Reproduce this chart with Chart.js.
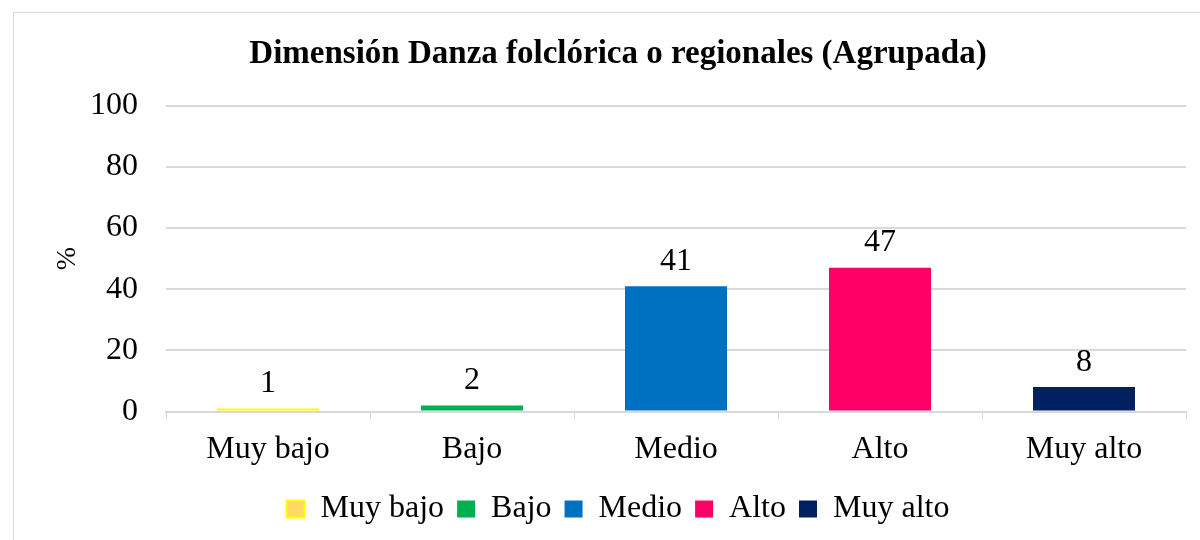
<!DOCTYPE html>
<html>
<head>
<meta charset="utf-8">
<script src="https://cdn.jsdelivr.net/npm/chart.js@4"></script>
<style>
  html, body { margin: 0; padding: 0; background: #fff; }
  #frame { position: absolute; left: 13px; top: 12px; width: 1200px; height: 540px; border: 1px solid #d9d9d9; }
  #wrap { position: absolute; left: 0; top: 0; width: 1200px; height: 540px; }
</style>
</head>
<body>
<div id="frame"></div>
<div id="wrap"><canvas id="c"></canvas></div>
<script>
const categories = ['Muy bajo', 'Bajo', 'Medio', 'Alto', 'Muy alto'];
const values = [1, 2, 41, 47, 8];
const barColors = ['#FFFF00', '#00B050', '#0070C0', '#FF0066', '#002060'];
const legendFill = ['#FFD966', '#00B050', '#0070C0', '#FF0066', '#002060'];
const yTicks = [0, 20, 40, 60, 80, 100];

const serif = '"Liberation Serif", "Times New Roman", serif';

const valueLabels = {
  id: 'valueLabels',
  afterDatasetsDraw(chart) {
    const ctx = chart.ctx;
    const meta = chart.getDatasetMeta(0);
    ctx.save();
    ctx.font = '32px ' + serif;
    ctx.fillStyle = '#000';
    ctx.textAlign = 'center';
    ctx.textBaseline = 'bottom';
    meta.data.forEach((bar, i) => {
      ctx.fillText(String(values[i]), bar.x, bar.y - 9);
    });
    ctx.restore();
  }
};

new Chart(document.getElementById('c'), {
  type: 'bar',
  data: {
    labels: categories,
    datasets: [{
      label: '%',
      data: values,
      backgroundColor: barColors,
      borderWidth: 0,
      barPercentage: 0.5,
      categoryPercentage: 1.0,
    }],
  },
  options: {
    responsive: true, maintainAspectRatio: false,
    animation: false,
    layout: { padding: { left: 50, right: 14, top: 35, bottom: 5 } },
    plugins: {
      title: {
        display: true,
        text: 'Dimensión Danza folclórica o regionales (Agrupada)',
        font: { family: serif, size: 33, weight: 'bold' },
        color: '#000',
        padding: { top: 0, bottom: 31 },
      },
      legend: {
        position: 'bottom',
        labels: {
          font: { family: serif, size: 32 },
          color: '#000',
          boxWidth: 18, boxHeight: 17,
          padding: 13,
          generateLabels: () => categories.map((c, i) => ({
            text: c,
            fillStyle: legendFill[i],
            strokeStyle: barColors[i],
            lineWidth: i === 0 ? 2 : 0,
            hidden: false,
            index: i,
          })),
        },
        onClick: () => {},
      },
      tooltip: { enabled: false },
    },
    scales: {
      x: {
        grid: { drawOnChartArea: false, drawTicks: true, tickLength: 8, color: '#d9d9d9', offset: true },
        border: { display: true, color: '#d9d9d9', width: 2 },
        ticks: { font: { family: serif, size: 32 }, color: '#000', padding: 11 },
      },
      y: {
        min: 0, max: 100,
        afterBuildTicks: (axis) => { axis.ticks = yTicks.map(v => ({ value: v })); },
        afterFit: (axis) => { axis.width = 116; },
        grid: { color: '#d9d9d9', lineWidth: 2, drawTicks: false },
        border: { display: false },
        ticks: { font: { family: serif, size: 32 }, color: '#000', padding: 28 },
        title: { display: true, text: '%', font: { family: serif, size: 28, lineHeight: 1 }, color: '#000', padding: { top: 4, bottom: 0 } },
      },
    },
  },
  plugins: [valueLabels],
});
</script>
</body>
</html>
